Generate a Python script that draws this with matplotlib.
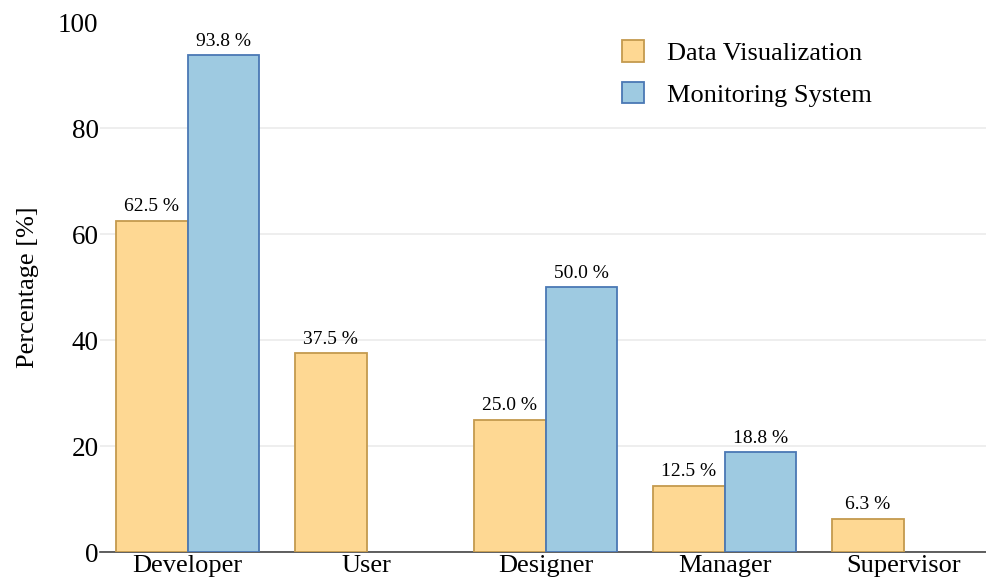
import numpy as np
import matplotlib.pyplot as plt

plt.rcParams['font.family'] = ['Liberation Serif', 'DejaVu Serif']

# dados
roles = ['Developer', 'User', 'Designer', 'Manager', 'Supervisor']
data_vis = [62.5, 37.5, 25.0, 12.5, 6.3]
monitoring = [93.8, 0.0, 50.0, 18.8, 0.0]

fig = plt.figure(figsize=(9.86, 5.87), dpi=100)
ax = fig.add_axes([0.1014, 0.0596, 0.8986, 0.9029])

x = np.arange(len(roles))
w = 0.4

ax.bar(x - w/2, data_vis, w, color='#FED893', edgecolor='#C49A4E', linewidth=1.3,
       label='Data Visualization', zorder=3)
ms_vals = [v if v > 0 else np.nan for v in monitoring]
ax.bar(x + w/2, ms_vals, w, color='#9ECAE1', edgecolor='#4A78B4', linewidth=1.3,
       label='Monitoring System', zorder=3)

# rotulos com os valores em cima das barras
for xi, v in zip(x - w/2, data_vis):
    ax.text(xi, v + 1.0, f'{v:.1f} %', ha='center', va='bottom', fontsize=14)
for xi, v in zip(x + w/2, monitoring):
    if v > 0:
        ax.text(xi, v + 1.0, f'{v:.1f} %', ha='center', va='bottom', fontsize=14)

ax.set_xlim(-0.49, 4.46)
ax.set_ylim(0, 100)
ax.set_xticks(x)
ax.set_xticklabels(roles, fontsize=19)
ax.set_yticks([0, 20, 40, 60, 80, 100])
ax.tick_params(axis='y', labelsize=19.5, length=0, pad=1)
ax.tick_params(axis='x', length=0, pad=2)
ax.set_ylabel('Percentage [%]', fontsize=19, labelpad=14)

# grade horizontal (sem a linha do 100)
ax.yaxis.grid(True, color='#EBEBEB', linewidth=1.2, zorder=0)
ax.yaxis.get_gridlines()[-1].set_visible(False)
ax.set_axisbelow(True)
for s in ['top', 'right', 'left']:
    ax.spines[s].set_visible(False)
ax.spines['bottom'].set_color('#444444')
ax.spines['bottom'].set_linewidth(1.2)

ax.legend(loc='upper left', bbox_to_anchor=(0.562, 1.01), frameon=False, fontsize=19,
          handlelength=0.85, handleheight=0.85, handletextpad=0.87, labelspacing=0.65)

fig.savefig('out.png', dpi=100)
